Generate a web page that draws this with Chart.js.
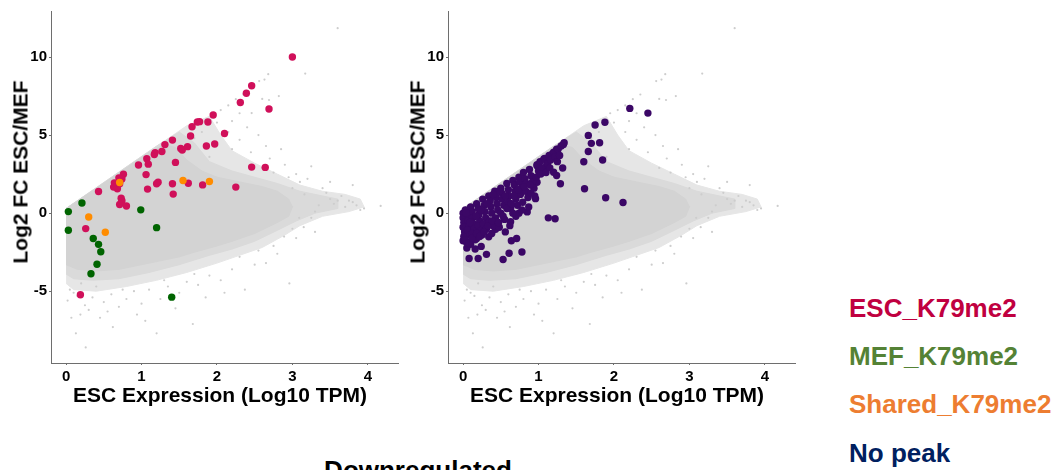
<!DOCTYPE html>
<html>
<head>
<meta charset="utf-8">
<script src="https://cdn.jsdelivr.net/npm/chart.js@4.4.1/dist/chart.umd.min.js"></script>
<style>
  html, body { margin: 0; padding: 0; background: #fff; }
  body { width: 1056px; height: 470px; overflow: hidden; position: relative; font-family: 'Liberation Sans', Arial, sans-serif; font-weight: bold; }
  canvas { position: absolute; top: 0; }
  .t { position: absolute; white-space: nowrap; line-height: 1; }
  .ytitle { font-size: 21px; transform: translate(-50%, -50%) rotate(-90deg); color: #000; }
  .xtitle { font-size: 21px; transform: translateX(-50%); color: #000; }
  .leg { font-size: 26px; left: 849px; }
</style>
</head>
<body>
<canvas id="left" width="410" height="420" style="left:0px"></canvas>
<canvas id="right" width="410" height="420" style="left:397px"></canvas>

<div class="t ytitle" style="left:19.5px; top:172px">Log2 FC ESC/MEF</div>
<div class="t ytitle" style="left:416.5px; top:172px">Log2 FC ESC/MEF</div>
<div class="t xtitle" style="left:220px; top:384px">ESC Expression (Log10 TPM)</div>
<div class="t xtitle" style="left:617px; top:384px">ESC Expression (Log10 TPM)</div>

<div class="t leg" style="top:295px; color:#C00040">ESC_K79me2</div>
<div class="t leg" style="top:343px; color:#548235">MEF_K79me2</div>
<div class="t leg" style="top:391px; color:#ED7D31">Shared_K79me2</div>
<div class="t leg" style="top:440px; color:#002060">No peak</div>

<div class="t" style="left:418px; top:457px; font-size:26px; transform:translateX(-50%)">Downregulated</div>

<script>
// ---------------- data ----------------
const xTicks = [0, 1, 2, 3, 4]
const yTicks = [-5, 0, 5, 10]

// genes with a K79me2 peak in ESC only
const escK79 = [[3.0,10.0],[2.46,8.16],[2.39,7.68],[2.31,7.09],[2.69,6.67],[1.95,6.29],[1.74,5.84],[1.77,5.86],
  [1.88,5.84],[1.67,5.53],[2.10,5.10],[1.65,4.94],[1.41,4.68],[1.31,4.39],[1.52,4.14],[1.54,4.05],[1.61,4.26],
  [1.86,4.30],[1.97,4.43],[1.27,3.95],[1.18,3.88],[1.17,3.76],[1.07,3.48],[1.09,3.14],[0.96,3.08],[1.45,3.25],
  [2.46,2.95],[2.64,2.93],[1.06,2.47],[0.76,2.49],[0.74,2.19],[0.70,2.26],[0.64,1.94],[0.63,1.67],[0.68,1.56],
  [0.71,1.88],[0.43,1.39],[1.20,1.88],[1.22,1.98],[1.41,1.88],[1.62,1.92],[1.81,1.81],[2.25,1.67],[1.08,1.54],
  [1.42,1.22],[0.73,0.95],[0.74,0.80],[0.71,0.55],[0.80,0.46],[0.26,-0.99],[0.19,-5.23]]

// peak in MEF only
const mefK79 = [[0.03,0.10],[0.03,-1.10],[0.21,0.65],[0.99,0.21],[1.20,-0.93],[0.36,-1.62],[0.43,-2.00],
  [0.46,-2.47],[0.41,-3.27],[0.33,-3.88],[1.40,-5.38]]

// peak in both
const sharedK79 = [[0.30,-0.25],[0.52,-1.22],[0.71,1.96],[1.55,2.09],[1.90,2.03]]

// no peak (right panel)
const noPeak = [[2.21,6.71],[2.45,6.41],[1.88,5.82],[1.75,5.65],[1.66,4.98],[1.70,4.47],[1.81,4.51],[1.66,3.95],
  [1.85,3.40],[1.60,3.29],[1.32,2.89],[1.29,1.88],[1.61,1.56],[1.89,0.99],[2.12,0.68],[1.13,-0.30],[1.22,-0.36],
  [0.78,-2.49],[0.53,-2.97],[0.61,-2.57],[0.31,-2.64],[0.20,-2.91],[0.08,-2.91],[0.24,-2.13],[0.16,-2.30],
  [0.05,-2.24],[0.00,-1.77],[0.18,-1.62],[0.34,-1.52],[0.43,-1.03],[0.64,-1.77],[0.71,-1.62],[0.63,-0.55],
  [0.74,0.00],[0.85,0.08],[0.96,0.93],[0.93,1.88],[0.98,1.98],[0.98,3.04],[1.07,3.46],[1.18,3.78],[1.24,4.09],
  [1.34,4.51],[1.09,2.83],[1.20,2.62],[1.24,2.41],[1.11,3.14],
  [0.00,0.00],[0.00,-0.30],[0.01,-0.60],[0.00,-0.90],[0.02,-1.20],[0.01,-1.50],[0.03,0.20],[0.06,-0.10],
  [0.07,-0.50],[0.08,-0.80],[0.06,-1.10],[0.09,-1.40],[0.05,-1.90],[0.10,0.40],[0.12,0.10],[0.13,-0.30],
  [0.14,-0.70],[0.15,-1.00],[0.12,-1.30],[0.16,-1.70],[0.18,0.60],[0.20,0.30],[0.21,-0.10],[0.22,-0.50],
  [0.20,-0.80],[0.24,-1.10],[0.26,0.90],[0.28,0.50],[0.29,0.10],[0.30,-0.30],[0.27,-0.70],[0.31,-1.00],
  [0.34,1.10],[0.36,0.80],[0.37,0.40],[0.38,0.00],[0.35,-0.50],[0.40,-0.80],[0.42,1.40],[0.44,1.00],
  [0.45,0.60],[0.46,0.20],[0.43,-0.30],[0.50,1.60],[0.51,1.30],[0.52,0.90],[0.54,0.50],[0.50,0.00],
  [0.55,-0.40],[0.58,1.90],[0.60,1.50],[0.61,1.10],[0.60,0.70],[0.63,0.30],[0.62,-0.80],[0.66,2.10],
  [0.68,1.80],[0.69,1.40],[0.70,0.90],[0.72,0.50],[0.74,2.30],[0.75,2.00],[0.77,1.60],[0.76,1.20],
  [0.79,0.70],[0.80,2.60],[0.82,2.20],[0.84,1.90],[0.83,1.40],[0.86,1.00],[0.88,2.80],[0.90,2.40],
  [0.92,2.00],[0.94,1.60],[0.98,3.10],[1.00,2.70],[1.02,3.30],[1.05,2.90],[1.08,3.50],[1.12,3.20],
  [1.14,3.70],[1.16,3.40],[1.20,3.90],[1.22,3.60],[1.26,4.10],[1.30,4.30],[1.33,4.40],[0.38,-1.30],
  [0.48,-0.90],[0.56,-1.20],[0.25,-1.40],[0.10,-2.00],[0.70,-0.20],[0.78,0.20],[0.66,0.00],[0.87,0.40],
  [0.95,1.10],[0.03,-1.70],[0.08,-1.90],[0.12,-1.60],[0.18,-1.30],[0.22,-1.50],[0.28,-1.20],[0.33,-0.80],
  [0.39,-0.50],[0.47,-0.60],[0.53,-0.20],[0.58,0.30],[0.64,0.60],[0.68,1.10],[0.73,1.50],[0.81,1.70],
  [0.89,1.80],[0.90,1.30],[0.97,2.30],[1.03,2.50],[1.10,2.60],[1.15,2.90],[1.25,3.30],[1.28,3.70],
  [0.56,1.10],[0.48,1.40],[0.40,1.20],[0.32,0.60],[0.24,0.20],[0.17,-0.20],[0.09,-0.60],[0.04,0.00]]

// outline of the dense grey cloud of all genes
const coreCloud = [[0,0.3],[0.4,1.6],[0.8,2.9],[1.1,3.9],[1.3,4.4],[1.45,4.2],[1.6,3.4],[1.8,2.7],[2.0,2.3],
  [2.3,2.0],[2.6,1.7],[2.8,1.4],[2.95,0.9],[3.0,0.4],[2.95,-0.2],[2.8,-0.6],[2.5,-1.3],[2.2,-1.8],[2.0,-2.1],
  [1.7,-2.5],[1.5,-2.8],[1.2,-3.1],[1.0,-3.3],[0.7,-3.6],[0.4,-3.7],[0.15,-3.6],[0,-3.3]]

// a thinner ring round it
const midCloud = [[0,0.3],[0.6,2.3],[1.2,4.3],[1.5,5.2],[1.7,4.5],[1.9,3.3],[2.2,2.7],[2.5,2.3],[2.8,1.9],
  [3.1,1.4],[3.4,1.1],[3.6,0.9],[3.6,0.3],[3.3,0.0],[3.05,-0.5],[2.8,-1.1],[2.5,-1.8],[2.2,-2.3],[1.9,-2.7],
  [1.5,-3.3],[1.1,-3.8],[0.7,-4.2],[0.35,-4.3],[0.1,-4.2],[0,-3.9]]

// the thin outer halo
const outerCloud = [[0,0.3],[0.8,2.95],[1.6,5.6],[1.9,6.2],[2.05,5.0],[2.2,4.0],[2.5,3.2],[2.8,2.5],[3.1,1.8],
  [3.4,1.4],[3.7,1.2],[3.9,0.9],[3.95,0.4],[3.75,0.1],[3.4,-0.2],[3.1,-0.8],[2.9,-1.4],[2.6,-2.2],[2.3,-2.7],
  [2.0,-3.2],[1.6,-3.8],[1.2,-4.3],[0.8,-4.7],[0.4,-5.0],[0.1,-4.9],[0,-4.5]]

// single grey genes outside the cloud
const greyDots = [[0.02,-5.6],[0.07,-6.7],[0.13,-7.7],[0.19,-6.5],[0.26,-8.6],[0.45,-6.7],[0.94,-6.5],[1.2,-7.7],
  [1.68,-7.1],[0.1,-5.1],[0.25,-5.9],[0.35,-5.4],[0.5,-5.7],[0.6,-5.2],[0.7,-6.0],[0.8,-5.5],[0.9,-5.0],
  [1.0,-5.8],[1.1,-4.9],[1.25,-5.5],[1.35,-4.7],[1.5,-5.1],[1.6,-4.4],[1.75,-4.6],[1.9,-4.0],[2.05,-4.3],
  [2.2,-3.6],[2.37,-4.9],[2.5,-3.3],[2.65,-3.2],[2.8,-2.6],[2.96,-4.5],[2.89,-1.5],[3.0,-1.0],[3.09,-0.3],
  [0.3,-6.2],[0.55,-6.3],[0.15,-5.3],[0.4,-4.7],[0.75,-4.9],[1.45,-6.1],[1.05,-6.9],[0.62,-7.3],[2.3,-2.8],
  [2.1,-5.1],[1.85,-5.4],[0.05,-4.9],[0.2,-4.5],[1.3,-4.3],[1.7,-3.9],[2.55,-2.4],
  [3.6,11.85],[3.17,8.94],[2.56,8.46],[2.63,8.56],[2.68,8.9],[2.6,7.32],[2.69,7.25],[2.82,7.5],[2.46,6.41],
  [2.35,7.6],[2.25,7.3],[2.15,6.9],[2.05,6.6],[1.95,6.4],[2.3,6.4],[2.2,5.9],[2.4,5.5],[2.55,5.0],[2.65,4.3],
  [2.15,5.2],[2.0,5.8],[1.85,6.0],[1.8,5.2],[2.3,4.7],[2.45,3.9],[2.7,3.5],[2.9,3.1],[2.85,4.1],[3.25,3.0],
  [3.05,2.5],[3.2,2.2],[3.5,2.0],[3.8,1.8],[3.16,1.2],[3.45,1.3],[3.6,0.8],[3.7,0.4],[3.8,0.7],[3.95,0.3],
  [4.17,0.46],[3.35,0.5],[3.5,0.9],[3.65,1.1],[3.3,0.1],[3.9,0.2],[2.6,2.9],[2.75,2.6],[2.2,4.1],[1.7,4.8],
  [1.9,3.6],[3.0,1.6],[3.1,2.0],[2.95,2.3],[3.4,1.6],[3.55,0.6],[3.75,0.8],[3.85,0.5],[3.25,-0.3],[3.15,-0.9],
  [3.05,-1.6],[2.75,-2.1],[3.3,-1.2]]

// ---------------- chart ----------------
const toXY = arr => arr.map(p => ({x: p[0], y: p[1]}))

const dots = (pts, color, order) => ({
  type: 'scatter', data: toXY(pts), backgroundColor: color, borderWidth: 0,
  pointRadius: 3.7, order: order
})

const cloud = (pts, color, order) => ({
  type: 'line', data: toXY(pts), fill: 'shape', backgroundColor: color, borderColor: color,
  borderWidth: 1, pointRadius: 0, tension: 0, order: order
})

const makePanel = (id, fg) => {
  const datasets = fg.concat([
    { type: 'scatter', data: toXY(greyDots), backgroundColor: '#cdcdcd', borderWidth: 0, pointRadius: 1.1, order: 5 },
    cloud(coreCloud, '#d3d3d3', 7),
    cloud(midCloud, '#dadada', 8),
    cloud(outerCloud, '#e6e6e6', 9)
  ])

  const tickFont = {family: "'Liberation Sans', Arial, sans-serif", size: 15, weight: 'bold'}

  new Chart(document.getElementById(id), {
    type: 'scatter',
    data: {datasets: datasets},
    options: {
      responsive: false,
      animation: false,
      devicePixelRatio: 1,
      layout: {padding: {top: 7, right: 12, left: 0, bottom: 0}},
      plugins: {legend: {display: false}, tooltip: {enabled: false}},
      scales: {
        x: {
          type: 'linear', min: -0.2, max: 4.4,
          afterBuildTicks: s => { s.ticks = xTicks.map(v => ({value: v})) },
          afterFit: s => { s.height = 57 },
          grid: {drawOnChartArea: false, drawTicks: true, tickLength: 2, color: '#6e6e6e'},
          border: {color: '#6e6e6e', width: 1},
          ticks: {color: '#000', font: tickFont, padding: 3}
        },
        y: {
          type: 'linear', min: -9.6, max: 12.95,
          afterBuildTicks: s => { s.ticks = yTicks.map(v => ({value: v})) },
          afterFit: s => { s.width = 51 },
          grid: {drawOnChartArea: false, drawTicks: true, tickLength: 2, color: '#6e6e6e'},
          border: {color: '#6e6e6e', width: 1},
          ticks: {color: '#000', font: tickFont, padding: 2}
        }
      }
    }
  })
}

makePanel('left', [
  dots(sharedK79, '#ff8c00', 0),
  dots(mefK79, '#006400', 1),
  dots(escK79, '#d0105a', 2)
])
makePanel('right', [
  dots(noPeak, '#3b0766', 0)
])
</script>
</body>
</html>
